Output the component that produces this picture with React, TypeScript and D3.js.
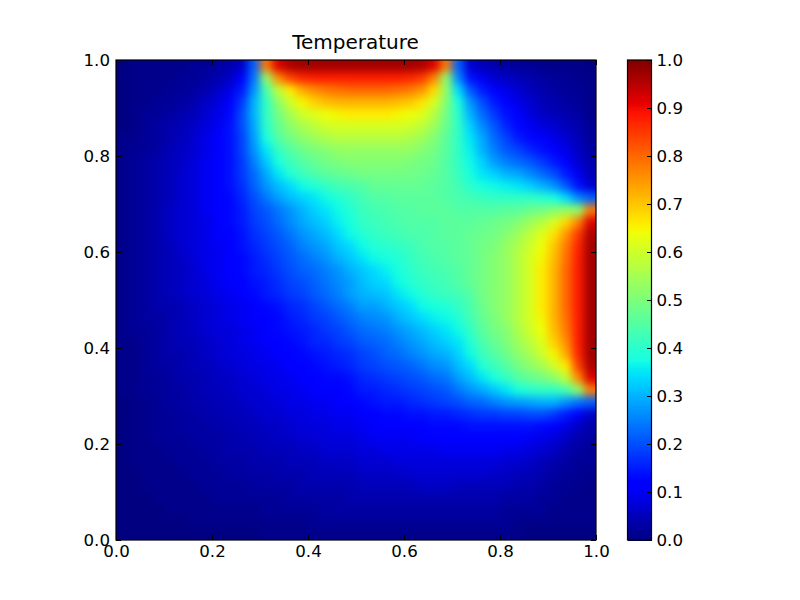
import React, { useEffect, useRef } from "react";
import * as d3 from "d3";

const TITLE = "Temperature";
const axisTicks = [0, 0.2, 0.4, 0.6, 0.8, 1];
const colorbarTicks = [0, 0.1, 0.2, 0.3, 0.4, 0.5, 0.6, 0.7, 0.8, 0.9, 1];

// matplotlib "jet" control points
const jetRedStops: [number, number][] = [[0, 0], [0.35, 0], [0.66, 1], [0.89, 1], [1, 0.5]];
const jetGreenStops: [number, number][] = [[0, 0], [0.125, 0], [0.375, 1], [0.64, 1], [0.91, 0], [1, 0]];
const jetBlueStops: [number, number][] = [[0, 0.5], [0.11, 1], [0.34, 1], [0.65, 0], [1, 0]];

// Temperature, in hundredths. First row is the top of the plot.
const temperatureRows: number[][] = [
  [0,1,1,1,1,1,2,2,3,4,6,22,78,92,96,97,97,97,97,97,97,97,97,97,97,96,92,78,22,7,5,4,3,2,2,1,1,1,1,0],
  [0,1,1,1,1,2,2,3,4,6,11,24,52,76,84,87,88,88,88,88,88,88,88,88,87,85,77,52,26,14,10,7,6,5,4,3,2,2,1,1],
  [0,1,1,1,2,2,3,4,6,9,15,27,44,58,66,73,76,78,79,80,80,80,80,79,78,75,68,53,34,21,15,11,9,7,5,4,3,2,2,1],
  [0,1,1,2,2,3,4,6,8,12,18,30,41,52,60,65,69,71,72,72,72,72,72,71,70,67,61,51,38,27,20,15,11,9,7,5,4,3,2,1],
  [0,1,2,2,3,4,5,7,9,13,20,30,41,49,55,60,62,64,65,66,66,66,66,65,64,62,57,49,40,30,23,18,14,11,8,6,5,4,3,1],
  [0,1,2,3,4,5,6,8,10,14,20,29,40,47,52,55,58,60,61,61,61,61,61,61,60,58,54,48,41,33,26,21,16,13,10,8,7,5,4,2],
  [1,1,2,3,4,5,7,9,11,14,19,28,38,45,49,52,54,56,57,57,57,57,57,57,56,54,51,46,41,35,29,23,19,15,13,11,9,7,5,2],
  [1,2,2,3,5,6,7,9,12,14,19,27,35,41,45,48,50,51,53,53,53,53,53,53,53,51,49,46,41,36,30,25,21,19,16,14,11,9,6,3],
  [1,2,3,4,5,6,8,10,12,14,18,25,32,38,42,45,47,49,50,51,51,51,51,51,50,49,48,45,41,37,33,28,25,23,21,18,15,11,7,4],
  [1,2,3,4,5,7,8,10,12,14,18,23,29,35,39,42,44,46,47,48,49,49,49,49,49,48,47,45,42,38,35,33,30,29,26,23,20,15,10,5],
  [1,2,3,4,5,7,8,10,11,14,17,22,27,31,34,37,39,41,43,44,45,47,47,47,47,47,46,45,43,40,38,37,36,35,33,30,27,21,14,7],
  [1,2,3,4,5,7,8,10,11,13,16,20,24,28,31,33,35,37,39,41,43,45,45,46,46,46,46,45,44,43,42,41,41,41,41,40,38,34,26,22],
  [1,2,3,4,6,7,8,10,11,13,15,19,21,24,27,30,33,35,37,39,42,43,44,45,45,46,46,46,45,45,45,45,46,46,48,49,51,53,52,78],
  [1,2,3,4,6,7,8,9,11,13,15,18,20,23,26,29,31,33,36,38,41,42,43,44,45,45,45,46,46,46,47,48,49,51,54,57,61,68,77,92],
  [1,2,3,4,6,7,8,9,11,12,14,17,19,21,24,27,29,31,34,37,39,41,42,43,44,44,45,46,46,47,48,49,51,54,58,62,67,75,85,96],
  [1,2,3,4,5,7,8,9,10,12,14,16,18,20,22,25,27,29,32,34,37,39,40,41,42,44,45,45,46,47,49,50,53,56,60,64,70,78,87,97],
  [1,2,3,4,5,6,8,9,10,12,13,15,17,19,21,23,25,27,30,32,35,37,38,39,41,43,44,45,46,47,49,51,53,57,61,65,71,79,88,97],
  [1,2,3,4,5,6,7,9,10,11,13,15,16,18,20,22,23,25,27,30,32,34,36,38,40,42,43,44,45,47,49,51,53,57,61,66,72,80,88,97],
  [1,2,3,4,5,6,7,8,10,11,12,14,15,17,19,20,22,24,26,28,31,33,34,37,39,41,42,43,45,47,49,51,53,57,61,66,72,80,88,97],
  [1,2,3,4,5,6,7,8,9,10,12,13,15,16,18,19,21,23,25,28,30,31,32,35,37,39,41,42,43,45,49,51,53,57,61,66,72,80,88,97],
  [1,2,3,4,4,5,6,7,8,9,10,11,13,14,16,17,19,21,23,25,28,28,30,32,34,37,38,39,41,44,48,51,53,57,61,66,72,80,88,97],
  [1,2,3,3,4,5,6,7,8,9,10,11,12,13,15,16,18,19,21,23,25,26,27,30,32,34,36,37,39,43,47,50,53,57,61,65,72,79,88,97],
  [1,2,2,3,4,5,6,7,8,8,9,10,11,13,14,15,16,18,19,21,23,24,25,27,29,31,33,35,37,41,46,49,51,56,60,64,71,78,88,97],
  [1,1,2,3,4,5,5,6,7,8,9,10,11,12,13,14,16,16,18,19,21,22,23,25,27,29,31,33,35,39,44,47,50,54,58,62,69,76,88,97],
  [1,1,2,3,4,4,5,6,7,8,8,9,10,11,12,13,14,15,16,17,19,20,22,23,25,27,29,30,33,37,42,45,48,52,55,60,65,73,87,97],
  [1,1,2,3,3,4,5,5,6,7,8,9,9,10,11,12,13,14,15,16,18,19,20,21,22,24,26,27,31,34,39,42,45,49,52,55,60,66,84,96],
  [1,1,2,2,3,4,4,5,6,6,7,8,9,9,10,11,12,13,13,14,16,17,18,19,20,21,23,24,28,31,35,38,41,45,47,49,52,58,76,92],
  [1,1,2,2,3,3,4,5,5,6,7,7,8,9,9,10,11,11,12,13,15,15,16,17,18,19,20,21,24,27,29,32,35,38,40,41,41,44,52,78],
  [0,1,1,2,3,3,4,4,5,5,6,7,7,8,9,9,10,10,11,11,13,14,15,15,16,17,18,19,20,22,23,25,27,28,29,30,30,27,24,22],
  [0,1,1,2,2,3,3,4,4,5,5,6,7,7,8,8,9,9,10,10,12,12,13,13,14,14,15,15,16,17,18,18,19,19,20,20,18,15,11,6],
  [0,1,1,2,2,3,3,3,4,4,5,5,6,6,7,8,8,8,9,9,10,11,11,12,12,12,13,13,13,14,14,14,14,14,14,13,12,9,6,4],
  [0,1,1,2,2,2,3,3,3,4,4,5,5,6,6,7,7,8,8,8,9,10,10,10,10,11,11,11,11,11,12,12,12,11,10,9,8,6,4,3],
  [0,1,1,1,2,2,2,3,3,4,4,4,5,5,5,6,6,7,7,7,8,8,9,9,9,9,9,10,10,10,10,10,9,9,8,7,6,4,3,2],
  [0,1,1,1,1,2,2,2,3,3,3,4,4,4,5,5,5,6,6,6,7,7,7,8,8,8,8,8,8,8,8,8,7,7,6,5,4,3,2,2],
  [0,0,1,1,1,1,2,2,2,3,3,3,3,4,4,4,5,5,5,5,6,6,6,6,7,7,7,7,7,7,7,6,6,5,5,4,3,2,2,1],
  [0,0,1,1,1,1,1,2,2,2,2,3,3,3,3,4,4,4,4,4,5,5,5,5,5,6,6,6,5,5,5,5,5,4,4,3,2,2,1,1],
  [0,0,0,1,1,1,1,1,2,2,2,2,2,2,3,3,3,3,3,4,4,4,4,4,4,4,4,4,4,4,4,4,3,3,3,2,2,1,1,1],
  [0,0,0,0,1,1,1,1,1,1,1,1,2,2,2,2,2,3,3,3,3,3,3,3,3,3,3,3,3,3,3,3,2,2,2,2,1,1,1,1],
  [0,0,0,0,0,0,1,1,1,1,1,1,1,1,1,1,2,2,2,2,2,2,2,2,2,2,2,2,2,2,2,2,2,1,1,1,1,1,1,1],
  [0,0,0,0,0,0,0,0,0,0,0,0,1,1,1,1,1,1,1,1,1,1,1,1,1,1,1,1,1,1,1,1,1,1,0,0,0,0,0,0],
];

const FONT = "'DejaVu Sans', sans-serif";
const channel = (stops: [number, number][]) =>
  d3.scaleLinear().domain(stops.map((s) => s[0])).range(stops.map((s) => s[1])).clamp(true);
const jetR = channel(jetRedStops);
const jetG = channel(jetGreenStops);
const jetB = channel(jetBlueStops);
const jet = (v: number) =>
  d3.rgb(jetR(v) * 255, jetG(v) * 255, jetB(v) * 255).formatRgb();

const plot = { left: 116, right: 596, top: 60, bottom: 540 };
const bar = { left: 627.5, right: 651.5 };
const EDGE_BLEED = 16;

export default function App() {
  const ref = useRef<SVGSVGElement>(null);

  useEffect(() => {
    const svg = d3.select(ref.current);
    svg.selectAll("*").remove();

    const defs = svg.append("defs");
    defs.append("clipPath").attr("id", "plot-clip").append("rect")
      .attr("x", plot.left).attr("y", plot.top)
      .attr("width", plot.right - plot.left).attr("height", plot.bottom - plot.top);
    defs.append("filter").attr("id", "soften")
      .attr("filterUnits", "userSpaceOnUse")
      .attr("x", plot.left - EDGE_BLEED).attr("y", plot.top - EDGE_BLEED)
      .attr("width", plot.right - plot.left + 2 * EDGE_BLEED)
      .attr("height", plot.bottom - plot.top + 2 * EDGE_BLEED)
      .attr("color-interpolation-filters", "sRGB")
      .append("feGaussianBlur").attr("stdDeviation", 4);

    const x = d3.scaleLinear().domain([0, 1]).range([plot.left, plot.right]);
    const y = d3.scaleLinear().domain([0, 1]).range([plot.bottom, plot.top]);
    const nRows = temperatureRows.length;
    const nCols = temperatureRows[0].length;
    const cx = d3.scaleBand<number>().domain(d3.range(nCols)).range([plot.left, plot.right]);
    const cy = d3.scaleBand<number>().domain(d3.range(nRows)).range([plot.top, plot.bottom]);

    svg.append("g")
      .attr("clip-path", "url(#plot-clip)")
      .append("g")
      .attr("filter", "url(#soften)")
      .attr("shape-rendering", "crispEdges")
      .selectAll("g")
      .data(temperatureRows)
      .join("g")
      .each(function (row, r) {
        const top = r === 0 ? EDGE_BLEED : 0;
        const bottom = r === nRows - 1 ? EDGE_BLEED : 0;
        d3.select(this)
          .selectAll("rect")
          .data(row)
          .join("rect")
          .attr("x", (_, c) => cx(c)! - (c === 0 ? EDGE_BLEED : 0))
          .attr("y", cy(r)! - top)
          .attr("width", (_, c) => cx.bandwidth() + (c === 0 || c === nCols - 1 ? EDGE_BLEED : 0))
          .attr("height", cy.bandwidth() + top + bottom)
          .attr("fill", (d) => jet((d as number) / 100));
      });

    const barY = d3.scaleLinear().domain([0, 1]).range([plot.bottom, plot.top]);
    const levels = d3.range(256);
    svg.append("g")
      .attr("shape-rendering", "crispEdges")
      .selectAll("rect")
      .data(levels)
      .join("rect")
      .attr("x", bar.left)
      .attr("width", bar.right - bar.left)
      .attr("y", (l) => barY((l + 1) / 256))
      .attr("height", (plot.bottom - plot.top) / 256 + 0.5)
      .attr("fill", (l) => jet((l + 0.5) / 256));

    const fmt = d3.format(".1f");
    const TICK = 5;
    const style = (g: any) => {
      g.select(".domain").remove();
      g.selectAll("line").attr("stroke", "#000").attr("stroke-width", 1).attr("shape-rendering", "crispEdges");
      g.selectAll("text").attr("fill", "#000").attr("font-family", FONT).attr("font-size", 16.67);
    };

    svg.append("g").attr("transform", `translate(0,${plot.bottom})`)
      .call(d3.axisBottom(x).tickValues(axisTicks).tickFormat(fmt as any).tickSizeInner(-TICK).tickSizeOuter(0).tickPadding(5))
      .call(style);
    svg.append("g").attr("transform", `translate(0,${plot.top})`)
      .call(d3.axisTop(x).tickValues(axisTicks).tickFormat(() => "").tickSizeInner(-TICK).tickSizeOuter(0))
      .call(style);
    svg.append("g").attr("transform", `translate(${plot.left},0)`)
      .call(d3.axisLeft(y).tickValues(axisTicks).tickFormat(fmt as any).tickSizeInner(-TICK).tickSizeOuter(0).tickPadding(6))
      .call(style);
    svg.append("g").attr("transform", `translate(${plot.right},0)`)
      .call(d3.axisRight(y).tickValues(axisTicks).tickFormat(() => "").tickSizeInner(-TICK).tickSizeOuter(0))
      .call(style);
    svg.append("g").attr("transform", `translate(${bar.right},0)`)
      .call(d3.axisRight(barY).tickValues(colorbarTicks).tickFormat(fmt as any).tickSizeInner(-TICK).tickSizeOuter(0).tickPadding(5))
      .call(style);

    [
      [plot.left, plot.right],
      [bar.left, bar.right],
    ].forEach(([l, r]) => {
      svg.append("rect")
        .attr("x", l).attr("y", plot.top)
        .attr("width", r - l).attr("height", plot.bottom - plot.top)
        .attr("fill", "none").attr("stroke", "#000").attr("stroke-width", 1.2);
    });

    svg.append("text")
      .attr("x", (plot.left + plot.right) / 2 - 0.5)
      .attr("y", 49)
      .attr("text-anchor", "middle")
      .attr("font-family", FONT)
      .attr("font-size", 20)
      .attr("fill", "#000")
      .text(TITLE);
  }, []);

  return (
    <svg
      ref={ref}
      width={800}
      height={600}
      style={{ position: "absolute", left: 0, top: 0, background: "#fff" }}
    />
  );
}
